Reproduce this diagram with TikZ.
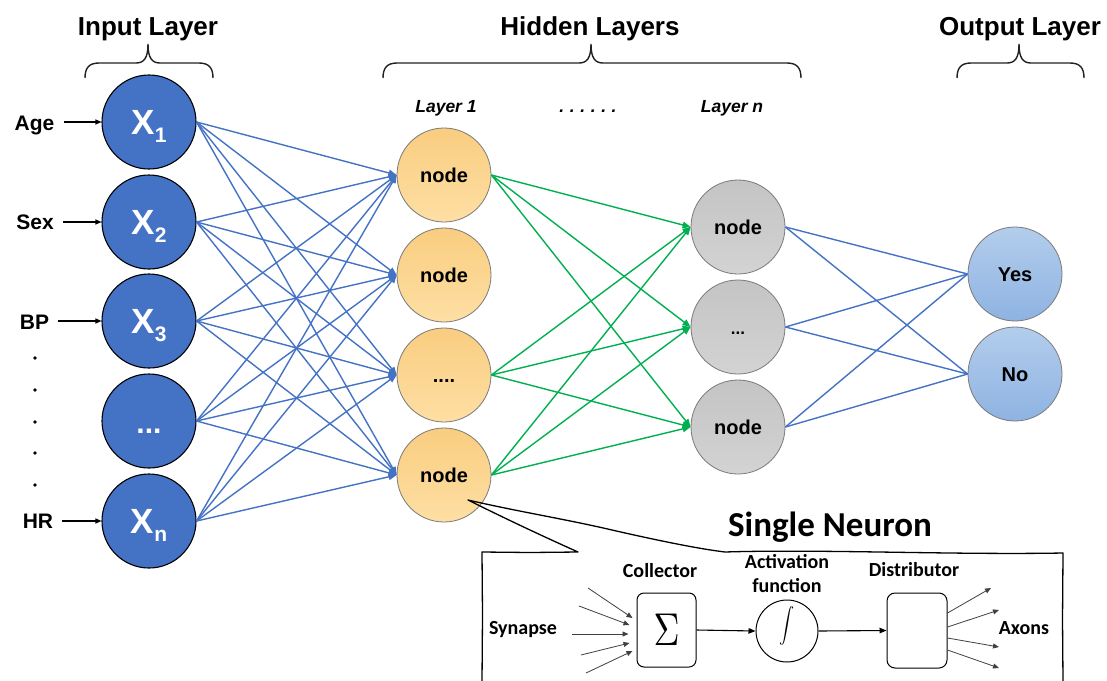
\documentclass[tikz,border=0pt]{standalone}
\usepackage{fontspec}
\setmainfont{Liberation Sans}
\newfontfamily\calfont{Carlito}
\usetikzlibrary{arrows.meta,calc}

\definecolor{inblue}{HTML}{4472C4}
\definecolor{linkblue}{HTML}{4472C4}
\definecolor{linkgreen}{HTML}{00B050}
\definecolor{goldtop}{HTML}{F9CD80}
\definecolor{goldbot}{HTML}{FEDFA4}
\definecolor{greytop}{HTML}{C4C4C4}
\definecolor{greybot}{HTML}{D3D3D3}
\definecolor{outtop}{HTML}{B3CDEC}
\definecolor{outbot}{HTML}{8EB3E2}
\definecolor{rimgrey}{HTML}{7A7A7A}
\definecolor{inkgrey}{HTML}{222222}

\newcommand{\subidx}[1]{\raisebox{-8pt}{\fontsize{21}{21}\selectfont #1}}

\begin{document}
\begin{tikzpicture}[x=1pt,y=-1pt,
  neuron/.style={circle, minimum size=94pt, inner sep=0pt, line width=0.8pt},
  innode/.style={neuron, draw=black, line width=1.1pt, fill=inblue, text=white,
    font=\bfseries\fontsize{35}{35}\selectfont, text height=24pt, text depth=0pt},
  hidnode/.style={neuron, draw=rimgrey, top color=goldtop, bottom color=goldbot,
    font=\bfseries\fontsize{20}{20}\selectfont, text height=14pt, text depth=0pt},
  lastnode/.style={hidnode, top color=greytop, bottom color=greybot},
  outnode/.style={hidnode, top color=outtop, bottom color=outbot},
  title/.style={font=\bfseries\fontsize{26}{26}\selectfont, anchor=base},
  feature/.style={font=\bfseries\fontsize{21}{21}\selectfont, inner sep=0pt,
    text height=15pt, text depth=0pt},
  layertag/.style={font=\bfseries\itshape\fontsize{17.5}{17.5}\selectfont, anchor=base},
  fwd/.style={draw=linkblue, line width=1.4pt, -{Triangle[length=8pt,width=6.5pt]}},
  fwdgreen/.style={draw=linkgreen, line width=1.4pt, -{Triangle[length=8pt,width=6.5pt]}},
  plainlink/.style={draw=linkblue, line width=1.4pt},
  feedarrow/.style={draw=black, line width=1.1pt, -{Triangle[length=6pt,width=5pt]}, shorten <=9pt},
  bracepath/.style={draw=inkgrey, line width=1.4pt},
  bubble/.style={draw=black, line width=1.3pt, line join=round},
  partlabel/.style={font=\calfont\bfseries\fontsize{20}{24}\selectfont, anchor=base,
    align=center, inner sep=1pt},
  unit/.style={draw=black, line width=1pt, fill=white},
  thinin/.style={draw=black!75, line width=0.8pt, -{Triangle[length=6pt,width=5pt]}},
  flow/.style={draw=black, line width=1.1pt, -{Triangle[length=7pt,width=5.5pt]}}
]
\clip (0,0) rectangle (1107,680);
\fill[white] (0,0) rectangle (1107,680);

% ---------- layer titles and braces ----------
\node[title] (tin)  at (148,35)  {Input Layer};
\node[title] (thid) at (590,35)  {Hidden Layers};
\node[title] (tout) at (1020,35) {Output Layer};

\draw[bracepath] (85,78) .. controls (85,68) and (89,63) .. (99,63) -- (136,63)
  .. controls (144,63) and (148,58) .. (148,44) .. controls (148,58) and (152,63) .. (160,63)
  -- (199,63) .. controls (209,63) and (213,68) .. (213,78);
\draw[bracepath] (383,78) .. controls (383,68) and (387,63) .. (397,63) -- (579,63)
  .. controls (587,63) and (591,58) .. (591,44) .. controls (591,58) and (595,63) .. (603,63)
  -- (787,63) .. controls (797,63) and (801,68) .. (801,78);
\draw[bracepath] (957,78) .. controls (957,68) and (961,63) .. (971,63) -- (1007,63)
  .. controls (1015,63) and (1019,58) .. (1019,44) .. controls (1019,58) and (1023,63) .. (1031,63)
  -- (1070,63) .. controls (1080,63) and (1084,68) .. (1084,78);

\node[layertag] (tl1) at (446,112.5) {Layer 1};
\node[layertag] (tdots) at (588,112) {.\hspace{5.6pt}.\hspace{5.6pt}.\hspace{5.6pt}.\hspace{5.6pt}.\hspace{5.6pt}.};
\node[layertag] (tln) at (732,112.5) {Layer n};

% ---------- input layer ----------
\node[innode] (i1) at (149,122) {X\subidx{1}};
\node[innode] (i2) at (149,222) {X\subidx{2}};
\node[innode] (i3) at (149,321) {X\subidx{3}};
\node[innode] (i4) at (149,421) {\fontsize{30}{30}\selectfont ...};
\node[innode] (i5) at (149,521) {X\subidx{n}};

\node[feature] (fage) at (34.5,122.5) {Age};
\node[feature] (fsex) at (35,222) {Sex};
\node[feature] (fbp)  at (34.5,321.5) {BP};
\node[feature] (fhr)  at (38,520.5) {HR};
\draw[feedarrow] (fage.east |- i1.west) -- (i1.west);
\draw[feedarrow] (fsex.east |- i2.west) -- (i2.west);
\draw[feedarrow] (fbp.east |- i3.west) -- (i3.west);
\draw[feedarrow] (fhr.east |- i5.west) -- (i5.west);
\foreach \yy in {358,390,422,453,485} \fill (35,\yy) circle (1.9pt);

% ---------- hidden layers ----------
\node[hidnode] (h1) at (444,175) {node};
\node[hidnode] (h2) at (444,275) {node};
\node[hidnode] (h3) at (444,375) {....};
\node[hidnode] (h4) at (444,475) {node};

\node[lastnode] (n1) at (738,227) {node};
\node[lastnode] (n2) at (738,327) {\fontsize{17}{17}\selectfont ...};
\node[lastnode] (n3) at (738,427) {node};

% ---------- output layer ----------
\node[outnode] (oyes) at (1015,274) {Yes};
\node[outnode] (ono)  at (1015,374) {No};

% ---------- connections ----------
\foreach \a in {1,...,5}
  \foreach \b in {1,...,4}
    \draw[fwd] (i\a.east) -- (h\b.west);
\foreach \a in {1,3,4}
  \foreach \b in {1,2,3}
    \draw[fwdgreen] (h\a.east) -- (n\b.west);
\foreach \a in {1,2,3}
  \foreach \b in {oyes,ono}
    \draw[plainlink] (n\a.east) -- (\b.west);

% ---------- single neuron callout ----------
\draw[bubble] (482,682) -- (482.5,615) -- (482,552) -- (530,552.5) -- (578,552)
  .. controls (540,535) and (500,516) .. (468,500)
  .. controls (520,512) and (565,519) .. (612,530)
  .. controls (660,541) and (700,549) .. (725,552)
  .. controls (820,549) and (950,555) .. (1063,553)
  -- (1062.5,620) -- (1063,682);

\node[font=\calfont\bfseries\fontsize{35}{35}\selectfont, anchor=base] (sn) at (830,536.5) {Single Neuron};

\node[partlabel] (lcol)  at (660,577) {Collector};
\node[partlabel] (lact)  at (787,592) {Activation\\function};
\node[partlabel] (ldist) at (914,576) {Distributor};
\node[partlabel] (lsyn)  at (523,634) {Synapse};
\node[partlabel] (laxon) at (1024,634) {Axons};

\node[unit, rounded corners=7pt, minimum width=59pt, minimum height=74pt] (sum) at (666.5,630) {};
\node[inner sep=0pt] (sigma) at (sum.center) {\scalebox{3.6}[4.6]{$\Sigma$}};
\node[unit, circle, minimum size=62pt, inner sep=0pt] (act) at (787,631) {};
\node[inner sep=0pt] (integ) at ($(act.center)+(0,-1)$) {\smash{\scalebox{1.5}[1.75]{$\displaystyle\int$}}};
\node[unit, rounded corners=8pt, minimum width=60pt, minimum height=75pt] (dist) at (917,630.5) {};

\coordinate (syn1) at (588,588);
\coordinate (syn2) at (579,606);
\coordinate (syn3) at (572,634);
\coordinate (syn4) at (581,655);
\coordinate (syn5) at (586,673);
\draw[thinin] (syn1) -- ([xshift=-4pt,yshift=12pt]sum.west);
\draw[thinin] (syn2) -- ([xshift=-7pt,yshift=5pt]sum.west);
\draw[thinin] (syn3) -- ([xshift=-8pt,yshift=-4pt]sum.west);
\draw[thinin] (syn4) -- ([xshift=-7pt,yshift=-13pt]sum.west);
\draw[thinin] (syn5) -- ([xshift=-4pt,yshift=-21pt]sum.west);

\draw[flow] (sum.east) -- (act.west);
\draw[flow] (act.east) -- (dist.west);

\coordinate (ax1) at (991,588);
\coordinate (ax2) at (999,610);
\coordinate (ax3) at (999,647);
\coordinate (ax4) at (999,668);
\draw[thinin] ([yshift=17.5pt]dist.east) -- (ax1);
\draw[thinin] ([yshift=3.5pt]dist.east) -- (ax2);
\draw[thinin] ([yshift=-7.5pt]dist.east) -- (ax3);
\draw[thinin] ([yshift=-19.5pt]dist.east) -- (ax4);
\end{tikzpicture}
\end{document}
